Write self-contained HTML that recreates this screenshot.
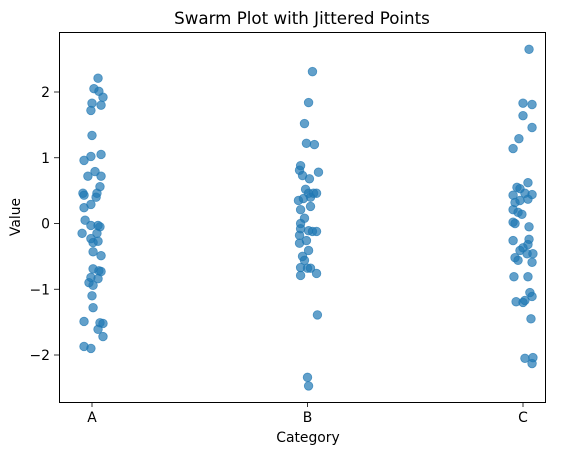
<!DOCTYPE html>
<html><head><meta charset="utf-8"><style>
body{margin:0;background:#fff;}
svg text{font-family:"DejaVu Sans","Liberation Sans",sans-serif;fill:#000;}
</style></head><body>
<svg id="chart" width="565" height="455">
<rect width="565" height="455" fill="#fff"/>
<text x="302" y="24" font-size="16.7" text-anchor="middle">Swarm Plot with Jittered Points</text>
<text x="308" y="442" font-size="13.9" text-anchor="middle">Category</text>
<text x="20" y="217" font-size="13.9" text-anchor="middle" transform="rotate(-90 20 217)">Value</text>
<g id="ticks"></g>
<g id="points"></g>
<rect x="59.5" y="32.5" width="486" height="370" fill="none" stroke="#000" stroke-width="1"/>
</svg>
<script>
const categories = ["A","B","C"];
const valuesA = [2.21,2.05,2.01,1.92,1.83,1.80,1.72,1.34,0.96,1.02,1.05,0.79,0.72,0.72,0.56,0.46,0.43,0.46,0.40,0.24,0.29,0.05,-0.15,-0.03,-0.03,-0.05,-0.15,-0.23,-0.29,-0.27,-0.43,-0.49,-0.69,-0.72,-0.73,-0.82,-0.84,-0.90,-0.94,-1.10,-1.28,-1.49,-1.51,-1.52,-1.61,-1.72,-1.87,-1.90];
const jitterA = [0.028,0.009,0.032,0.051,0,0.042,-0.005,0,-0.037,-0.005,0.042,0.014,-0.019,0.042,0.037,-0.042,-0.037,0.023,0.019,-0.037,-0.005,-0.032,-0.046,-0.005,0.028,0.037,0.023,-0.005,0.005,0.028,0.005,0.042,0.005,0.032,0.042,-0.005,0.028,-0.014,0.005,0,0.005,-0.037,0.037,0.051,0.028,0.051,-0.037,-0.005];
const valuesB = [2.31,1.84,1.52,1.22,1.20,0.88,0.81,0.73,0.68,0.78,0.52,0.35,0.46,0.46,0.46,0.40,0.38,0.26,0.21,0.08,0,-0.08,-0.11,-0.12,-0.12,-0.18,-0.26,-0.30,-0.41,-0.50,-0.56,-0.67,-0.68,-0.68,-0.76,-0.79,-1.39,-2.34,-2.47];
const jitterB = [0.023,0.005,-0.014,-0.005,0.032,-0.032,-0.037,-0.023,0.009,0.051,-0.009,-0.042,0.005,0.028,0.042,0.014,-0.019,0.014,-0.032,-0.014,-0.032,-0.032,0.005,0.023,0.042,-0.037,-0.005,-0.037,0.005,-0.023,-0.014,-0.032,0,0.014,0.042,-0.032,0.046,0,0.005];
const valuesC = [2.65,1.83,1.81,1.64,1.46,1.29,1.14,0.62,0.55,0.53,0.43,0.46,0.44,0.37,0.32,0.35,0.21,0.17,0.14,0.02,0,-0.05,-0.26,-0.24,-0.32,-0.37,-0.41,-0.46,-0.46,-0.52,-0.56,-0.59,-0.81,-0.81,-1.05,-1.11,-1.19,-1.20,-1.17,-1.45,-2.05,-2.04,-2.13];
const jitterC = [0.028,0,0.042,0,0.042,-0.019,-0.046,0.023,-0.028,-0.014,-0.046,0.009,0.042,0.023,-0.037,-0.014,-0.046,-0.023,-0.005,-0.046,-0.037,0.028,-0.046,0.028,0.023,0,-0.014,0.046,0.019,-0.037,-0.023,0.042,-0.042,0.023,0.032,0.042,-0.032,0,0.009,0.037,0.009,0.046,0.042];
const yTicks = [-2,-1,0,1,2];
const yTickLabels = ["\u22122","\u22121","0","1","2"];

const NS="http://www.w3.org/2000/svg";
function xScale(c){return 92 + c*215.5;}
function yScale(v){return 223.5 - v*65.75;}
const tg=document.getElementById('ticks');
const pg=document.getElementById('points');
function mk(tag,attrs,parent){const e=document.createElementNS(NS,tag);for(const k in attrs)e.setAttribute(k,attrs[k]);parent.appendChild(e);return e;}
categories.forEach((c,i)=>{
  const x=xScale(i);
  const t=mk('line',{x1:x,x2:x,y1:402,y2:407,stroke:'#000','stroke-width':0.8},tg);
  
  
  const l=mk('text',{x:x,y:422,'font-size':13.9,'text-anchor':'middle'},tg);
  l.textContent=c;
  
  
});
yTicks.forEach((v,i)=>{
  const y=yScale(v);
  const t=mk('line',{x1:54,x2:59,y1:y,y2:y,stroke:'#000','stroke-width':0.8},tg);
  
  
  const l=mk('text',{x:50,y:y+5,'font-size':13.9,'text-anchor':'end'},tg);
  l.textContent=yTickLabels[i];
  
  
});
const series=[[valuesA,jitterA],[valuesB,jitterB],[valuesC,jitterC]];
series.forEach((s,ci)=>{
  s[0].forEach((v,k)=>{
    const p=mk('circle',{cx:xScale(ci+s[1][k]),cy:yScale(v),r:4.3,fill:'#1f77b4','fill-opacity':0.7,stroke:'#1f77b4','stroke-opacity':0.7,'stroke-width':0.8},pg);
    
    
  });
});
</script>
</body></html>
